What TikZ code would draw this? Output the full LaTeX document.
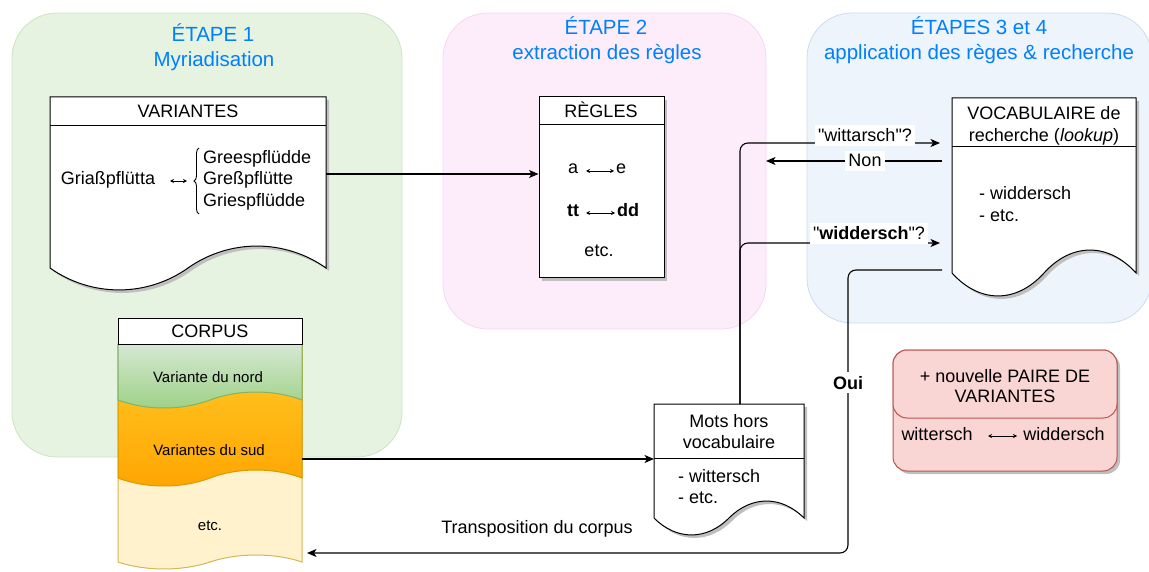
\documentclass[tikz,border=0pt]{standalone}
\usepackage{fontspec}
\setmainfont{Liberation Sans}[Ligatures=TeXOff]
\usetikzlibrary{arrows.meta,positioning,calc,decorations.pathreplacing}
\definecolor{titleblue}{RGB}{0,127,255}
\definecolor{stageonefill}{HTML}{E6F3E0}
\definecolor{stageoneline}{HTML}{CCE3C0}
\definecolor{stagetwofill}{HTML}{FDEDFB}
\definecolor{stagetwoline}{HTML}{F4D8F1}
\definecolor{stagethreefill}{HTML}{EEF4FC}
\definecolor{stagethreeline}{HTML}{CCDBEF}
\definecolor{nordtop}{HTML}{D5E8D4}
\definecolor{nordbot}{HTML}{9CD083}
\definecolor{nordline}{HTML}{82B366}
\definecolor{sudtop}{HTML}{FFCB2A}
\definecolor{sudbot}{HTML}{FFA500}
\definecolor{sudline}{HTML}{D79B00}
\definecolor{etcfill}{HTML}{FFF2CC}
\definecolor{etcline}{HTML}{D6B656}
\definecolor{pairfill}{HTML}{F9D6D4}
\definecolor{pairline}{HTML}{B85450}
\tikzstyle{heading} = [text=titleblue,font=\fontsize{20.5}{24}\selectfont,anchor=base]
\tikzstyle{txt} = [font=\fontsize{18}{21.5}\selectfont,inner sep=0pt]
\tikzstyle{bandtext} = [font=\fontsize{15}{18}\selectfont,inner sep=0pt,anchor=base]
\tikzstyle{stage} = [rounded corners=45pt,line width=0.8pt]
\tikzstyle{conn} = [line width=1.1pt,rounded corners=8pt]
\tikzstyle{lbl} = [txt,fill=white,inner sep=3.5pt,anchor=base]
\tikzstyle{docshadow} = [fill=black!25,draw=none]
\tikzstyle{twoway} = [line width=0.8pt,{Stealth[length=4pt,width=4pt]}-{Stealth[length=4pt,width=4pt]}]
\tikzset{>={Stealth[length=9.5pt,width=8pt,inset=2.5pt]}}
% document shape with a wavy bottom: [options]{x1}{y1}{x2}{y bottom}{amplitude}
\newcommand{\wavedoc}[6][]{%
  \path [#1] (#2,#3) -- (#4,#3) -- (#4,#5)
    .. controls ({#4-0.15*(#4-#2)},{#5-1.33*#6}) and ({#4-0.35*(#4-#2)},{#5-1.33*#6}) .. ({0.5*(#2+#4)},#5)
    .. controls ({#2+0.35*(#4-#2)},{#5+1.33*#6}) and ({#2+0.15*(#4-#2)},{#5+1.33*#6}) .. (#2,#5) -- cycle;}

\begin{document}
\begin{tikzpicture}[x=1pt,y=-1pt]
    \useasboundingbox (0,0) rectangle (1149,572);

    % stages
    \draw [stage,fill=stageonefill,draw=stageoneline] (12,13) rectangle (402,457);
    \draw [stage,fill=stagetwofill,draw=stagetwoline] (443,13) rectangle (766,329);
    \draw [stage,fill=stagethreefill,draw=stagethreeline] (807,13) rectangle (1152,323);
    \node [heading] (etape1) at (213,42) {ÉTAPE 1};
    \node [heading] (myriad) at (214,67) {Myriadisation};
    \node [heading] (etape2) at (606,35) {ÉTAPE 2};
    \node [heading] (extract) at (607,60) {extraction des règles};
    \node [heading] (etape34) at (979,35) {ÉTAPES 3 et 4};
    \node [heading] (applic) at (979,60) {application des règes \& recherche};

    % variantes
    \wavedoc[docshadow,shift={(3,3)}]{50}{97}{326}{268}{22}
    \wavedoc[draw,fill=white,line width=1pt]{50}{97}{326}{268}{22}
    \draw [line width=1pt] (50,126) -- (326,126);
    \node [txt,anchor=base] (varhd) at (188,118) {VARIANTES};
    \node [txt,anchor=base] (griass) at (108,185) {Griaßpflütta};
    \draw [twoway] (170,181) -- (187,181);
    \draw [line width=0.9pt,decorate,decoration={brace,amplitude=5pt}] (199,214) -- (199,148);
    \node [txt,anchor=base west] (gree) at (203,164) {Greespflüdde};
    \node [txt,anchor=base west] (gress) at (203,185) {Greßpflütte};
    \node [txt,anchor=base west] (gries) at (203,207) {Griespflüdde};
    \coordinate (var-out) at (326,174);

    % regles
    \fill [docshadow] (542,100) rectangle (667,281);
    \node [draw,fill=white,line width=1pt,minimum width=125pt,minimum height=181pt,inner sep=0pt] (regles) at (601.5,187.5) {};
    \draw [line width=1pt] (539,125) -- (664,125);
    \node [txt,anchor=base] (reghd) at (601,118) {RÈGLES};
    \node [txt,anchor=base] (rega) at (573,174) {a};
    \draw [twoway] (586,171) -- (614,171);
    \node [txt,anchor=base] (rege) at (621,174) {e};
    \node [txt,anchor=base] (regtt) at (573,217) {\textbf{tt}};
    \draw [twoway] (586,213) -- (615,213);
    \node [txt,anchor=base] (regdd) at (628,217) {\textbf{dd}};
    \node [txt,anchor=base] (regetc) at (599,257) {etc.};

    % corpus
    \wavedoc[draw=etcline,fill=etcfill,line width=1pt]{118}{344}{302}{562}{7}
    \wavedoc[draw=sudline,top color=sudtop,bottom color=sudbot,line width=1pt]{118}{344}{302}{478}{8}
    \wavedoc[draw=nordline,top color=nordtop,bottom color=nordbot,line width=1pt]{118}{344}{302}{400}{8}
    \draw [fill=white,line width=1pt] (118,318) rectangle (302,344);
    \node [txt,anchor=base] (corphd) at (210,337) {CORPUS};
    \node [bandtext] (nord) at (208,382) {Variante du nord};
    \node [bandtext] (sud) at (209,455) {Variantes du sud};
    \node [bandtext] (corpetc) at (210,530) {etc.};

    % mots hors vocabulaire
    \wavedoc[docshadow,shift={(3,3)}]{654}{404}{804}{518}{17}
    \wavedoc[draw,fill=white,line width=1pt]{654}{404}{804}{518}{17}
    \draw [line width=1pt] (654,458) -- (804,458);
    \node [txt,anchor=base] (motshd1) at (729,427) {Mots hors};
    \node [txt,anchor=base] (motshd2) at (729,448) {vocabulaire};
    \node [txt,anchor=base west] (motsw) at (678,482) {- wittersch};
    \node [txt,anchor=base west] (motse) at (678,503) {- etc.};

    % vocabulaire de recherche
    \wavedoc[docshadow,shift={(3,3)}]{952}{98}{1136}{273}{23}
    \wavedoc[draw,fill=white,line width=1pt]{952}{98}{1136}{273}{23}
    \draw [line width=1pt] (952,147) -- (1136,147);
    \node [txt,anchor=base] (vochd1) at (1044,120) {VOCABULAIRE de};
    \node [txt,anchor=base] (vochd2) at (1044,142) {recherche (\textit{lookup})};
    \node [txt,anchor=base west] (vocw) at (979,200) {- widdersch};
    \node [txt,anchor=base west] (voce) at (979,222) {- etc.};

    % nouvelle paire
    \fill [docshadow,rounded corners=14pt] (896,353) rectangle (1120,474);
    \draw [fill=pairfill,draw=pairline,rounded corners=14pt,line width=1pt] (893,350) rectangle (1117,471);
    \draw [fill=pairfill,draw=pairline,rounded corners=14pt,line width=1pt] (893,350) rectangle (1117,418);
    \node [txt,anchor=base] (pair1) at (1005,382) {+ nouvelle PAIRE DE};
    \node [txt,anchor=base] (pair2) at (1005,402) {VARIANTES};
    \node [txt,anchor=base] (pairwit) at (937,440) {wittersch};
    \draw [twoway] (988,436) -- (1017,436);
    \node [txt,anchor=base] (pairwid) at (1064,440) {widdersch};

    % connectors
    \coordinate (corp-out) at (302,459);
    \coordinate (mots-in) at (654,459);
    \coordinate (mots-top) at (740,404);
    \coordinate (voc-ask1) at (940,143);
    \coordinate (voc-ask2) at (940,243);
    \coordinate (voc-non) at (942,161);
    \coordinate (non-end) at (766,161);
    \coordinate (voc-oui) at (942,270);
    \coordinate (oui-turn) at (848,553);
    \coordinate (corp-in) at (307,553);
    \draw [conn,->] (var-out) -- (regles.west |- var-out);
    \draw [conn,->] (corp-out) -- (mots-in);
    \draw [conn,->] (mots-top) |- (voc-ask1);
    \draw [conn,->] (mots-top) |- (voc-ask2);
    \draw [conn,->] (voc-non) -- (non-end);
    \draw [conn,->] (voc-oui) -| (oui-turn) -- (corp-in);
    \node [lbl] (askwit) at (865,142) {"wittarsch"?};
    \node [lbl] (askwid) at (869,240) {"\textbf{widdersch}"?};
    \node [lbl] (non) at (865,167) {Non};
    \node [lbl] (oui) at (848,389) {\textbf{Oui}};
    \node [txt,anchor=base] (transpo) at (537,533) {Transposition du corpus};
\end{tikzpicture}
\end{document}
